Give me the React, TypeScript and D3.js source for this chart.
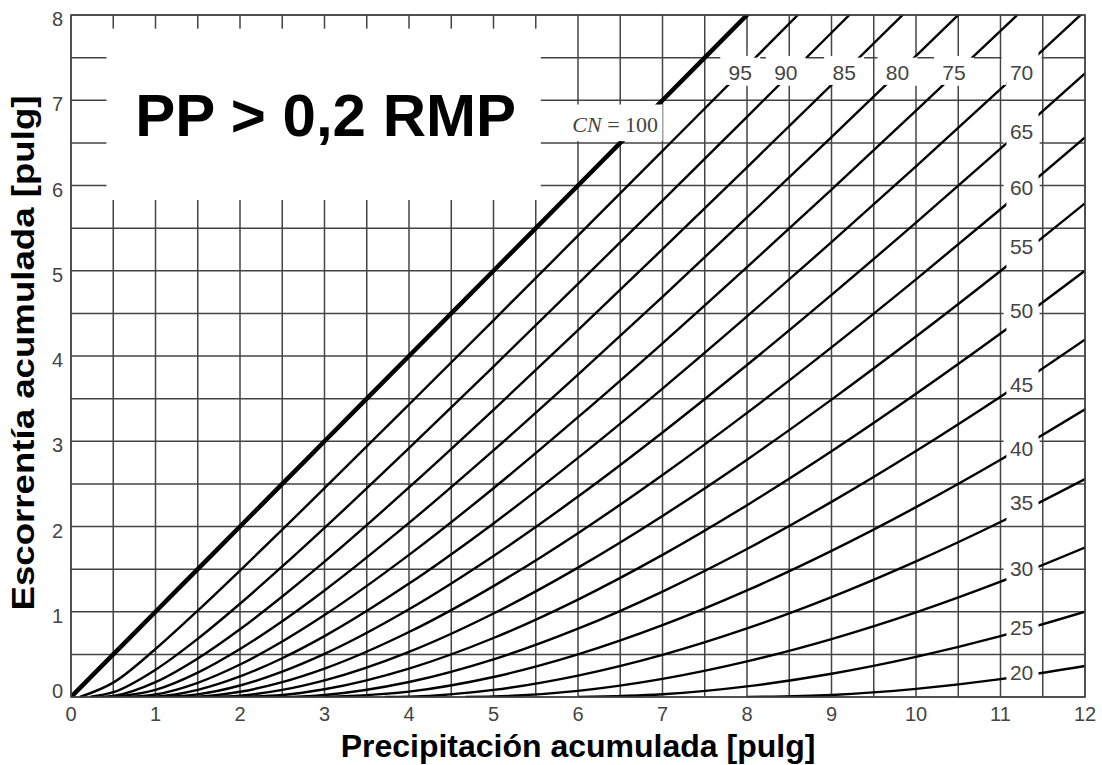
import { useEffect, useRef } from "react";
import * as d3 from "d3";

const precip = [0.5, 1, 1.5, 2, 2.5, 3, 4, 5, 6, 7, 8, 9, 10, 11, 12];

const curveNumbers = [100, 95, 90, 85, 80, 75, 70, 65, 60, 55, 50, 45, 40, 35, 30, 25, 20];

// where each curve leaves the x-axis (initial abstraction)
const startP = [0, 0.105, 0.222, 0.353, 0.5, 0.667, 0.857, 1.077, 1.333, 1.636, 2, 2.444, 3, 3.714, 4.667, 6, 8];

// Escorrentía acumulada [pulg], one value per precip entry (null = off the chart)
const q100 = [0.5, 1, 1.5, 2, 2.5, 3, 4, 5, 6, 7, 8, 9, null, null, null];
const q95 = [0.169, 0.563, 1.013, 1.483, 1.963, 2.449, 3.431, 4.419, 5.412, 6.406, 7.401, 8.398, null, null, null];
const q90 = [0.056, 0.32, 0.683, 1.094, 1.531, 1.984, 2.919, 3.876, 4.846, 5.823, 6.806, 7.792, 8.78, null, null];
const q85 = [0.011, 0.174, 0.452, 0.795, 1.179, 1.588, 2.458, 3.368, 4.303, 5.253, 6.213, 7.181, 8.155, null, null];
const q80 = [0, 0.083, 0.286, 0.563, 0.889, 1.25, 2.042, 2.893, 3.781, 4.694, 5.625, 6.568, 7.521, 8.481, null];
const q75 = [0, 0.03, 0.167, 0.381, 0.651, 0.961, 1.667, 2.449, 3.282, 4.149, 5.042, 5.952, 6.877, 7.813, 8.758];
const q70 = [0, 0.005, 0.084, 0.241, 0.455, 0.714, 1.33, 2.036, 2.805, 3.618, 4.464, 5.335, 6.225, 7.13, 8.048];
const q65 = [0, 0, 0.031, 0.135, 0.298, 0.506, 1.029, 1.654, 2.351, 3.103, 3.894, 4.717, 5.565, 6.433, 7.316];
const q60 = [0, 0, 0.004, 0.061, 0.174, 0.333, 0.762, 1.301, 1.922, 2.604, 3.333, 4.101, 4.899, 5.721, 6.564];
const q55 = [0, 0, 0, 0.016, 0.083, 0.195, 0.53, 0.98, 1.518, 2.124, 2.784, 3.488, 4.228, 4.997, 5.792];
const q50 = [0, 0, 0, 0, 0.024, 0.091, 0.333, 0.692, 1.143, 1.667, 2.25, 2.882, 3.556, 4.263, 5];
const q45 = [0, 0, 0, 0, 0, 0.024, 0.176, 0.442, 0.801, 1.237, 1.736, 2.289, 2.886, 3.523, 4.193];
const q40 = [0, 0, 0, 0, 0, 0, 0.063, 0.235, 0.5, 0.842, 1.25, 1.714, 2.227, 2.783, 3.375];
const q35 = [0, 0, 0, 0, 0, 0, 0.004, 0.083, 0.251, 0.494, 0.804, 1.171, 1.59, 2.053, 2.556];
const q30 = [0, 0, 0, 0, 0, 0, 0, 0.005, 0.072, 0.212, 0.417, 0.679, 0.992, 1.352, 1.754];
const q25 = [0, 0, 0, 0, 0, 0, 0, 0, 0, 0.032, 0.125, 0.273, 0.471, 0.714, 1.0];
const q20 = [0, 0, 0, 0, 0, 0, 0, 0, 0, 0, 0, 0.024, 0.095, 0.209, 0.364];

const runoff = [q100, q95, q90, q85, q80, q75, q70, q65, q60, q55, q50, q45, q40, q35, q30, q25, q20];

// where the CN labels sit, in chart units (first one is "CN = 100")
const labelP = [6.44, 7.92, 8.46, 9.15, 9.78, 10.45, 11.25, 11.25, 11.25, 11.25, 11.25, 11.25, 11.25, 11.25, 11.25, 11.25, 11.25];
const labelQ = [6.72, 7.33, 7.33, 7.33, 7.33, 7.33, 7.33, 6.63, 5.98, 5.28, 4.53, 3.67, 2.92, 2.28, 1.51, 0.81, 0.29];

const xTicks = [0, 1, 2, 3, 4, 5, 6, 7, 8, 9, 10, 11, 12];
const yTicks = [0, 1, 2, 3, 4, 5, 6, 7, 8];

const title = "PP > 0,2 RMP";
const xTitle = "Precipitación acumulada [pulg]";
const yTitle = "Escorrentía acumulada [pulg]";

const W = 1102;
const H = 765;
const SANS = "'Liberation Sans', Arial, Helvetica, sans-serif";
const SERIF = "'Liberation Serif', 'Times New Roman', serif";

export default function App() {
    const chartRef = useRef<SVGSVGElement>(null);

    useEffect(() => {
        const svg = d3.select(chartRef.current);
        svg.selectAll("*").remove();

        const x = d3.scaleLinear().domain([0, 12]).range([71, 1085]);
        const y = d3.scaleLinear().domain([0, 8]).range([697, 15]);

        // boxes (chart units) where curves are interrupted for the labels
        const gaps = [
            { p0: 5.86, p1: 7.0, q0: 6.52, q1: 6.95 },
            { p0: 7.6, p1: 11.07, q0: 7.18, q1: 7.5 },
            { p0: 11.07, p1: 11.45, q0: 0, q1: 7.6 },
        ];

        const defs = svg.append("defs");
        defs.append("clipPath")
            .attr("id", "plot-area")
            .append("rect")
            .attr("x", x(0))
            .attr("y", y(8))
            .attr("width", x(12) - x(0))
            .attr("height", y(0) - y(8));

        const mask = defs.append("mask")
            .attr("id", "label-gaps")
            .attr("maskUnits", "userSpaceOnUse")
            .attr("x", 0).attr("y", 0).attr("width", W).attr("height", H);
        mask.append("rect").attr("width", W).attr("height", H).attr("fill", "#fff");
        mask.selectAll("rect.gap")
            .data(gaps)
            .enter()
            .append("rect")
            .attr("x", (d) => x(d.p0))
            .attr("y", (d) => y(d.q1))
            .attr("width", (d) => x(d.p1) - x(d.p0))
            .attr("height", (d) => y(d.q0) - y(d.q1))
            .attr("fill", "#000");

        svg.append("rect").attr("width", W).attr("height", H).attr("fill", "#fff");

        // grid every half inch
        const grid = svg.append("g").attr("stroke", "#444").attr("stroke-width", 1.5);
        grid.selectAll("line.v")
            .data(d3.range(0, 12.001, 0.5))
            .enter()
            .append("line")
            .attr("x1", (d) => x(d)).attr("x2", (d) => x(d))
            .attr("y1", y(0)).attr("y2", y(8));
        grid.selectAll("line.h")
            .data(d3.range(0, 8.001, 0.5))
            .enter()
            .append("line")
            .attr("x1", x(0)).attr("x2", x(12))
            .attr("y1", (d) => y(d)).attr("y2", (d) => y(d));

        // white panel behind the title
        svg.append("rect")
            .attr("x", x(0.42))
            .attr("y", y(7.84))
            .attr("width", x(5.56) - x(0.42))
            .attr("height", y(5.83) - y(7.84))
            .attr("fill", "#fff");

        // label backgrounds
        const boxes = svg.append("g").attr("fill", "#fff");
        curveNumbers.forEach((cn, i) => {
            if (i === 0) {
                boxes.append("rect")
                    .attr("x", x(5.86)).attr("y", y(6.95))
                    .attr("width", x(7.0) - x(5.86)).attr("height", y(6.52) - y(6.95));
            } else if (labelQ[i] > 7) {
                boxes.append("rect")
                    .attr("x", x(labelP[i]) - 20).attr("y", y(7.52))
                    .attr("width", 40).attr("height", y(7.17) - y(7.52));
            } else {
                boxes.append("rect")
                    .attr("x", x(labelP[i]) - 18).attr("y", y(labelQ[i]) - 13)
                    .attr("width", 36).attr("height", 26);
            }
        });

        // CN curves
        const line = d3.line<[number, number]>()
            .x((d) => x(d[0]))
            .y((d) => y(d[1]))
            .curve(d3.curveMonotoneX);

        const curves = svg.append("g")
            .attr("clip-path", "url(#plot-area)")
            .append("g")
            .attr("mask", "url(#label-gaps)");

        curveNumbers.forEach((cn, i) => {
            const pts: [number, number][] = [[startP[i], 0]];
            precip.forEach((p, j) => {
                const q = runoff[i][j];
                if (p > startP[i] && q != null) pts.push([p, q]);
            });
            curves.append("path")
                .attr("d", line(pts))
                .attr("fill", "none")
                .attr("stroke", "#000")
                .attr("stroke-width", cn === 100 ? 4.5 : 2.4);
        });

        // frame
        svg.append("rect")
            .attr("x", x(0)).attr("y", y(8))
            .attr("width", x(12) - x(0)).attr("height", y(0) - y(8))
            .attr("fill", "none").attr("stroke", "#444").attr("stroke-width", 1.5);

        // curve labels
        const cnLabel = svg.append("text")
            .attr("x", x(labelP[0])).attr("y", y(labelQ[0]))
            .attr("text-anchor", "middle")
            .attr("dominant-baseline", "central")
            .attr("font-family", SERIF)
            .attr("font-size", 22)
            .attr("fill", "#444");
        cnLabel.append("tspan").attr("font-style", "italic").text("CN");
        cnLabel.append("tspan").text(" = 100");

        svg.append("g")
            .selectAll("text")
            .data(curveNumbers.slice(1))
            .enter()
            .append("text")
            .attr("x", (d, i) => x(labelP[i + 1]))
            .attr("y", (d, i) => y(labelQ[i + 1]))
            .attr("text-anchor", "middle")
            .attr("dominant-baseline", "central")
            .attr("font-family", SANS)
            .attr("font-size", 21)
            .attr("fill", "#444")
            .text((d) => d);

        // title
        svg.append("text")
            .attr("x", x(0.76)).attr("y", y(6.58))
            .attr("font-family", SANS)
            .attr("font-weight", "bold")
            .attr("font-size", 60)
            .attr("fill", "#000")
            .text(title);

        // tick labels
        svg.append("g")
            .selectAll("text")
            .data(xTicks)
            .enter()
            .append("text")
            .attr("x", (d) => x(d))
            .attr("y", 721)
            .attr("text-anchor", "middle")
            .attr("font-family", SANS)
            .attr("font-size", 20)
            .attr("fill", "#444")
            .text((d) => d);

        svg.append("g")
            .selectAll("text")
            .data(yTicks)
            .enter()
            .append("text")
            .attr("x", 63)
            .attr("y", (d) => (d === 0 ? y(d) + 1 : y(d) + 11))
            .attr("text-anchor", "end")
            .attr("font-family", SANS)
            .attr("font-size", 20)
            .attr("fill", "#444")
            .text((d) => d);

        // axis titles
        svg.append("text")
            .attr("x", 578).attr("y", 757)
            .attr("text-anchor", "middle")
            .attr("font-family", SANS)
            .attr("font-weight", "bold")
            .attr("font-size", 32)
            .attr("fill", "#000")
            .text(xTitle);

        svg.append("text")
            .attr("transform", "translate(34,353) rotate(-90)")
            .attr("text-anchor", "middle")
            .attr("font-family", SANS)
            .attr("font-weight", "bold")
            .attr("font-size", 32)
            .attr("textLength", 515)
            .attr("lengthAdjust", "spacingAndGlyphs")
            .attr("fill", "#000")
            .text(yTitle);
    }, []);

    return (
        <svg
            ref={chartRef}
            width={W}
            height={H}
            style={{ position: "absolute", left: 0, top: 0 }}
        ></svg>
    );
}
